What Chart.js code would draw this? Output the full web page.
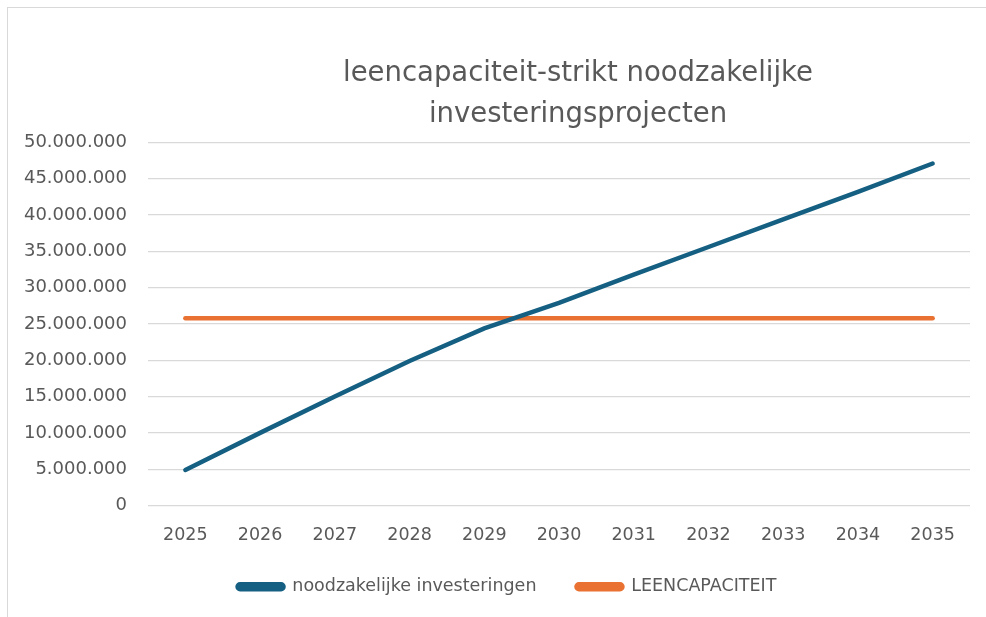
<!DOCTYPE html>
<html>
<head>
<meta charset="utf-8">
<script src="https://cdn.jsdelivr.net/npm/chart.js@4"></script>
<style>
  html, body { margin: 0; padding: 0; background: #fff; overflow: hidden; }
  #frame { position: absolute; left: 7px; top: 7px; width: 1000px; height: 640px; border: 1px solid #d9d9d9; }
  #wrap { position: absolute; left: 0; top: 0; width: 986px; height: 617px; }
</style>
</head>
<body>
<div id="frame"></div>
<div id="wrap"><canvas id="chart"></canvas></div>
<script>
const years = ['2025', '2026', '2027', '2028', '2029', '2030', '2031', '2032', '2033', '2034', '2035'];
// waarden in euro
const investeringen = [4900000, 10000000, 15000000, 19900000, 24400000, 27900000, 31800000, 35600000, 39400000, 43200000, 47100000];
const leencapaciteit = [25800000, 25800000, 25800000, 25800000, 25800000, 25800000, 25800000, 25800000, 25800000, 25800000, 25800000];
const titleLines = ['leencapaciteit-strikt noodzakelijke', 'investeringsprojecten'];

const textColor = '#595959';
const blue = '#156082';
const orange = '#E97132';

// titel en legenda staan in Excel niet precies in het midden
const shiftBoxes = {
  id: 'shiftBoxes',
  afterLayout(chart) {
    chart.titleBlock.left += 93;
    chart.titleBlock.right += 93;
    chart.legend.left += 22;
    chart.legend.right += 22;
    chart.legend.top -= 10.5;
    chart.legend.bottom -= 10.5;
  }
};

const ctx = document.getElementById('chart').getContext('2d');
new Chart(ctx, {
  type: 'line',
  data: {
    labels: years,
    datasets: [
      { label: 'noodzakelijke investeringen', data: investeringen, borderColor: blue, backgroundColor: blue,
        borderWidth: 4.5, pointRadius: 0, borderCapStyle: 'round', tension: 0 },
      { label: 'LEENCAPACITEIT', data: leencapaciteit, borderColor: orange, backgroundColor: orange,
        borderWidth: 4.5, pointRadius: 0, borderCapStyle: 'round', tension: 0 }
    ]
  },
  options: {
    responsive: true,
    maintainAspectRatio: false,
    animation: false,
    layout: { padding: { left: 0, right: 16, top: 0, bottom: 1 } },
    plugins: {
      title: {
        display: true,
        text: titleLines,
        color: textColor,
        font: { family: 'DejaVu Sans', size: 27.5, weight: 'normal', lineHeight: 1.49 },
        padding: { top: 53.5, bottom: 7 }
      },
      legend: {
        position: 'bottom',
        labels: {
          color: textColor,
          font: { family: 'DejaVu Sans', size: 17.5 },
          boxWidth: 46,
          boxHeight: 5,
          useBorderRadius: true,
          borderRadius: 2.5,
          padding: 40
        }
      },
      tooltip: { enabled: false }
    },
    scales: {
      x: {
        offset: true,
        grid: { display: false, drawTicks: false },
        border: { display: false },
        ticks: { color: textColor, font: { family: 'DejaVu Sans', size: 17.5 }, padding: 19.5, maxRotation: 0 },
        afterFit(scale) { scale.height = 43; }
      },
      y: {
        min: 0,
        max: 50000000,
        grid: { color: '#d9d9d9', lineWidth: 1.3, drawTicks: false },
        border: { display: false },
        ticks: {
          stepSize: 5000000,
          color: textColor,
          font: { family: 'DejaVu Sans', size: 18 },
          padding: 21,
          callback: v => String(v).replace(/\B(?=(\d{3})+(?!\d))/g, '.')
        },
        afterFit(scale) { scale.width = 148; }
      }
    }
  },
  plugins: [shiftBoxes]
});
</script>
</body>
</html>
